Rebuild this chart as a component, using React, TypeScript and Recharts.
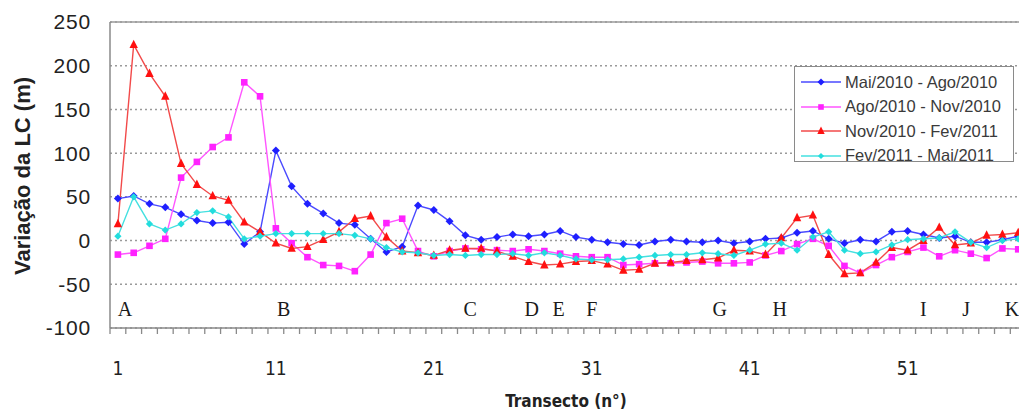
import React from 'react';
import { LineChart, Line, XAxis, YAxis, CartesianGrid, ReferenceLine, ReferenceDot, Legend, Label } from 'recharts';

const transects = [
  1, 2, 3, 4, 5, 6, 7, 8, 9, 10, 11, 12, 13, 14, 15, 16, 17, 18, 19, 20,
  21, 22, 23, 24, 25, 26, 27, 28, 29, 30, 31, 32, 33, 34, 35, 36, 37, 38, 39, 40,
  41, 42, 43, 44, 45, 46, 47, 48, 49, 50, 51, 52, 53, 54, 55, 56, 57, 58,
];

const maiAgo2010 = [
  48, 51, 42, 38, 30, 23, 20, 21, -4, 10, 103, 62, 42, 31, 20, 18, 2, -13, -7, 40,
  35, 22, 6, 1, 4, 7, 5, 7, 11, 4, 1, -2, -4, -5, -1, 1, -1, -2, 0, -3,
  -1, 2, 3, 9, 11, 2, -3, 1, -1, 10, 11, 7, 3, 5, -2, -2, 1, 5,
];

const agoNov2010 = [
  -16, -14, -6, 2, 72, 90, 107, 118, 181, 165, 14, -3, -19, -28, -29, -35, -16, 20, 25, -12,
  -18, -12, -9, -10, -11, -12, -10, -12, -15, -18, -19, -19, -28, -27, -26, -26, -25, -24, -26, -26,
  -25, -17, -12, -4, 2, -6, -29, -37, -28, -19, -13, -8, -18, -11, -15, -20, -9, -10,
];

const novFev2011 = [
  19, 224, 191, 165, 88, 64, 51, 46, 21, 10, -3, -9, -7, 1, 10, 25, 28, 4, -12, -14,
  -17, -11, -9, -9, -12, -18, -24, -28, -27, -24, -23, -27, -34, -33, -26, -25, -23, -22, -20, -11,
  -12, -16, 3, 26, 29, -16, -38, -37, -25, -8, -11, 0, 15, -5, -3, 6, 7, 9,
];

const fevMai2011 = [
  5, 50, 19, 12, 19, 32, 34, 27, 2, 5, 8, 8, 8, 8, 8, 6, 2, -8, -13, -14,
  -17, -16, -17, -16, -16, -15, -17, -14, -17, -21, -22, -22, -21, -19, -17, -16, -16, -14, -15, -17,
  -11, -4, -3, -11, 4, 10, -11, -15, -13, -5, 1, 2, 3, 10, -2, -8, 0, 2,
];

const seriesNames = ['Mai/2010 - Ago/2010', 'Ago/2010 - Nov/2010', 'Nov/2010 - Fev/2011', 'Fev/2011 - Mai/2011'];
const yTicks = [-100, -50, 0, 50, 100, 150, 200, 250];
const xTickLabels = [1, 11, 21, 31, 41, 51];
const siteLetters = ['A', 'B', 'C', 'D', 'E', 'F', 'G', 'H', 'I', 'J', 'K'];
const sitePositions = [1.45, 11.5, 23.3, 27.2, 28.9, 31.0, 39.1, 42.9, 52.0, 54.7, 57.6];
const siteLevel = -78;

const data = transects.map((t, i) => ({
  t,
  s1: maiAgo2010[i],
  s2: agoNov2010[i],
  s3: novFev2011[i],
  s4: fevMai2011[i],
}));

const series = [
  { key: 's1', name: seriesNames[0], color: '#1f1fff', line: '#4a4aff', shape: 'diamond', size: 4 },
  { key: 's2', name: seriesNames[1], color: '#ff22ff', line: '#ff55ff', shape: 'square', size: 3.3 },
  { key: 's3', name: seriesNames[2], color: '#ff1010', line: '#f24a4a', shape: 'triangle', size: 4.2 },
  { key: 's4', name: seriesNames[3], color: '#22dddd', line: '#44e0e0', shape: 'diamond', size: 3.6 },
];

const boundaries = transects.map((t) => t - 0.5);
const xTicks = [...boundaries, ...xTickLabels].sort((a, b) => a - b);

function Marker({ cx, cy, shape, color, size }: any) {
  if (cx == null || cy == null || isNaN(cx) || isNaN(cy)) return null;
  const s = size;
  if (shape === 'square') {
    return <rect x={cx - s} y={cy - s} width={2 * s} height={2 * s} fill={color} />;
  }
  if (shape === 'triangle') {
    return <polygon points={`${cx},${cy - s * 1.2} ${cx + s},${cy + s * 0.8} ${cx - s},${cy + s * 0.8}`} fill={color} />;
  }
  return <polygon points={`${cx},${cy - s} ${cx + s},${cy} ${cx},${cy + s} ${cx - s},${cy}`} fill={color} />;
}

const XTick = (props: any) => {
  const { x, y, payload } = props;
  const v = payload.value;
  if (Number.isInteger(v)) {
    return (
      <text x={x} y={y + 40} textAnchor="middle" dominantBaseline="central" fontSize={19}
        fontFamily="'Liberation Sans Narrow', 'DejaVu Sans Condensed', 'Liberation Sans', Arial, sans-serif" fill="#222">
        {v}
      </text>
    );
  }
  return <line x1={x} y1={y} x2={x} y2={y + 6} stroke="#8a8a8a" strokeWidth={1.3} />;
};

const LegendBox = () => (
  <div style={{ width: 220, height: 96, border: '1.5px solid #8a8a8a', background: '#fff', boxSizing: 'border-box', paddingTop: 3 }}>
    {series.map((s) => (
      <div key={s.key} style={{ display: 'flex', alignItems: 'center', height: 24.5 }}>
        <svg width={46} height={14} style={{ marginLeft: 4 }}>
          <line x1={2} y1={7} x2={42} y2={7} stroke={s.line} strokeWidth={1.4} />
          <Marker cx={22} cy={7} shape={s.shape} color={s.color} size={s.size - 0.5} />
        </svg>
        <span style={{ fontFamily: "'Liberation Sans', Arial, sans-serif", fontSize: 16.5, color: '#3a3a3a', whiteSpace: 'nowrap' }}>
          {s.name}
        </span>
      </div>
    ))}
  </div>
);

export default function App() {
  return (
    <div style={{ position: 'absolute', left: 0, top: 0, width: 1019, height: 412, background: '#fff', overflow: 'hidden' }}>
      <LineChart width={1019} height={412} data={data} margin={{ top: 22, right: 0, bottom: 0, left: 0 }}>
        <CartesianGrid vertical={false} stroke="#9a9a9a" strokeWidth={1.5} strokeDasharray="2 3" />
        <ReferenceLine y={250} stroke="#9a9a9a" strokeWidth={1.5} />
        <XAxis
          dataKey="t"
          type="number"
          domain={[0.5, 58.05]}
          allowDataOverflow
          ticks={xTicks}
          interval={0}
          tick={<XTick />}
          tickLine={false}
          tickSize={0}
          tickMargin={0}
          height={84}
          stroke="#8a8a8a"
          strokeWidth={1.5}
        >
          <Label
            content={() => (
              <text x={566} y={401} textAnchor="middle" dominantBaseline="central" fontSize={17} fontWeight="bold"
                fontFamily="'Liberation Sans Narrow', 'DejaVu Sans Condensed', 'Liberation Sans', Arial, sans-serif" fill="#222">
                Transecto (n°)
              </text>
            )}
          />
        </XAxis>
        <YAxis
          domain={[-100, 250]}
          ticks={yTicks}
          interval={0}
          width={110}
          tickLine={false}
          tickSize={0}
          tickMargin={19}
          stroke="#8a8a8a"
          strokeWidth={1.5}
          tick={{ fontSize: 21, fill: '#222', fontFamily: "'Liberation Sans', Arial, sans-serif", letterSpacing: 0.8 }}
        >
          <Label
            content={() => (
              <text x={22} y={176} transform="rotate(-90 22 176)" textAnchor="middle" dominantBaseline="central"
                fontSize={22} fontWeight="bold" fontFamily="'Liberation Sans', Arial, sans-serif" fill="#222">
                Variação da LC (m)
              </text>
            )}
          />
        </YAxis>
        {siteLetters.map((l, i) => (
          <ReferenceDot
            key={l}
            x={sitePositions[i]}
            y={siteLevel}
            r={0}
            fill="none"
            stroke="none"
            label={{ value: l, position: 'center', fontSize: 20, fill: '#1a1a1a', fontFamily: "'Liberation Serif', 'Times New Roman', serif" }}
          />
        ))}
        {series.map((s) => (
          <Line
            key={s.key}
            dataKey={s.key}
            name={s.name}
            stroke={s.line}
            strokeWidth={1.4}
            isAnimationActive={false}
            dot={(p: any) => <Marker key={`${s.key}-${p.index}`} cx={p.cx} cy={p.cy} shape={s.shape} color={s.color} size={s.size} />}
            activeDot={false}
          />
        ))}
        <Legend
          layout="vertical"
          align="center"
          verticalAlign="middle"
          content={() => <LegendBox />}
          wrapperStyle={{ position: 'absolute', left: 794, top: 66, width: 220, height: 96 }}
        />
      </LineChart>
    </div>
  );
}
